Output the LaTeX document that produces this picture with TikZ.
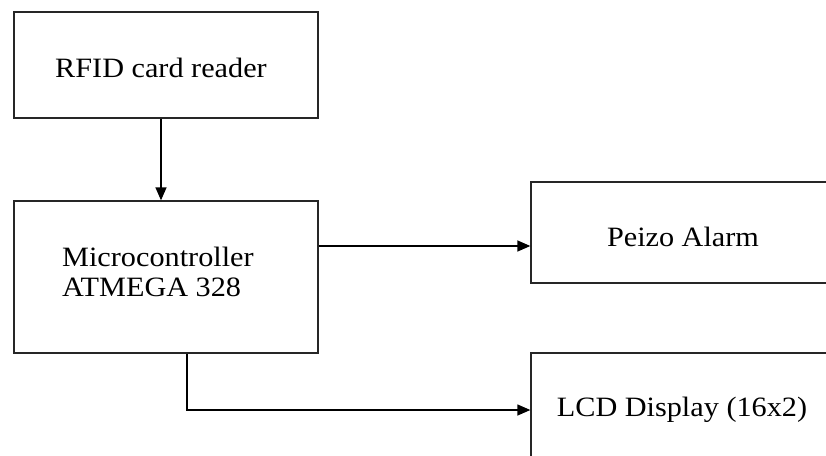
\documentclass[tikz,border=0pt]{standalone}
\usepackage{fontspec}
\setmainfont{Liberation Serif}[FakeStretch=1.08]
\usetikzlibrary{arrows.meta}
\begin{document}
\begin{tikzpicture}[x=1pt,y=-1pt,
  box/.style={draw=black!85, line width=1.3pt, rectangle, minimum width=304pt, inner sep=0pt},
  lbl/.style={font=\fontsize{28}{30}\selectfont, inner sep=0pt},
  arr/.style={draw=black, line width=1.3pt, -{Triangle[length=13pt,width=11pt]}}]
\useasboundingbox (0,0) rectangle (826,455);
\clip (0,0) rectangle (826,455);
\node[box, minimum height=106pt] (rfid) at (166,65) {};
\node[box, minimum height=152pt] (micro) at (166,277) {};
\node[box, minimum height=101pt] (peizo) at (683,232.5) {};
\node[box, minimum height=114pt] (lcd) at (683,410) {};
\node[lbl] (rfidt) at (161,68) {RFID card reader};
\node[lbl, align=left, anchor=west] (microt) at (62,272) {Microcontroller\\ATMEGA 328};
\node[lbl] (peizot) at (683,237) {Peizo Alarm};
\node[lbl] (lcdt) at (682,410) {LCD Display (16x2)};
\coordinate (pin) at ([yshift=-13.5pt]peizo.west);
\draw[arr] ([xshift=-5pt]rfid.south) -- ([xshift=-5pt]micro.north);
\draw[arr] (micro.east |- pin) -- (pin);
\draw[arr] ([xshift=21pt]micro.south) |- (lcd.west);
\end{tikzpicture}
\end{document}
